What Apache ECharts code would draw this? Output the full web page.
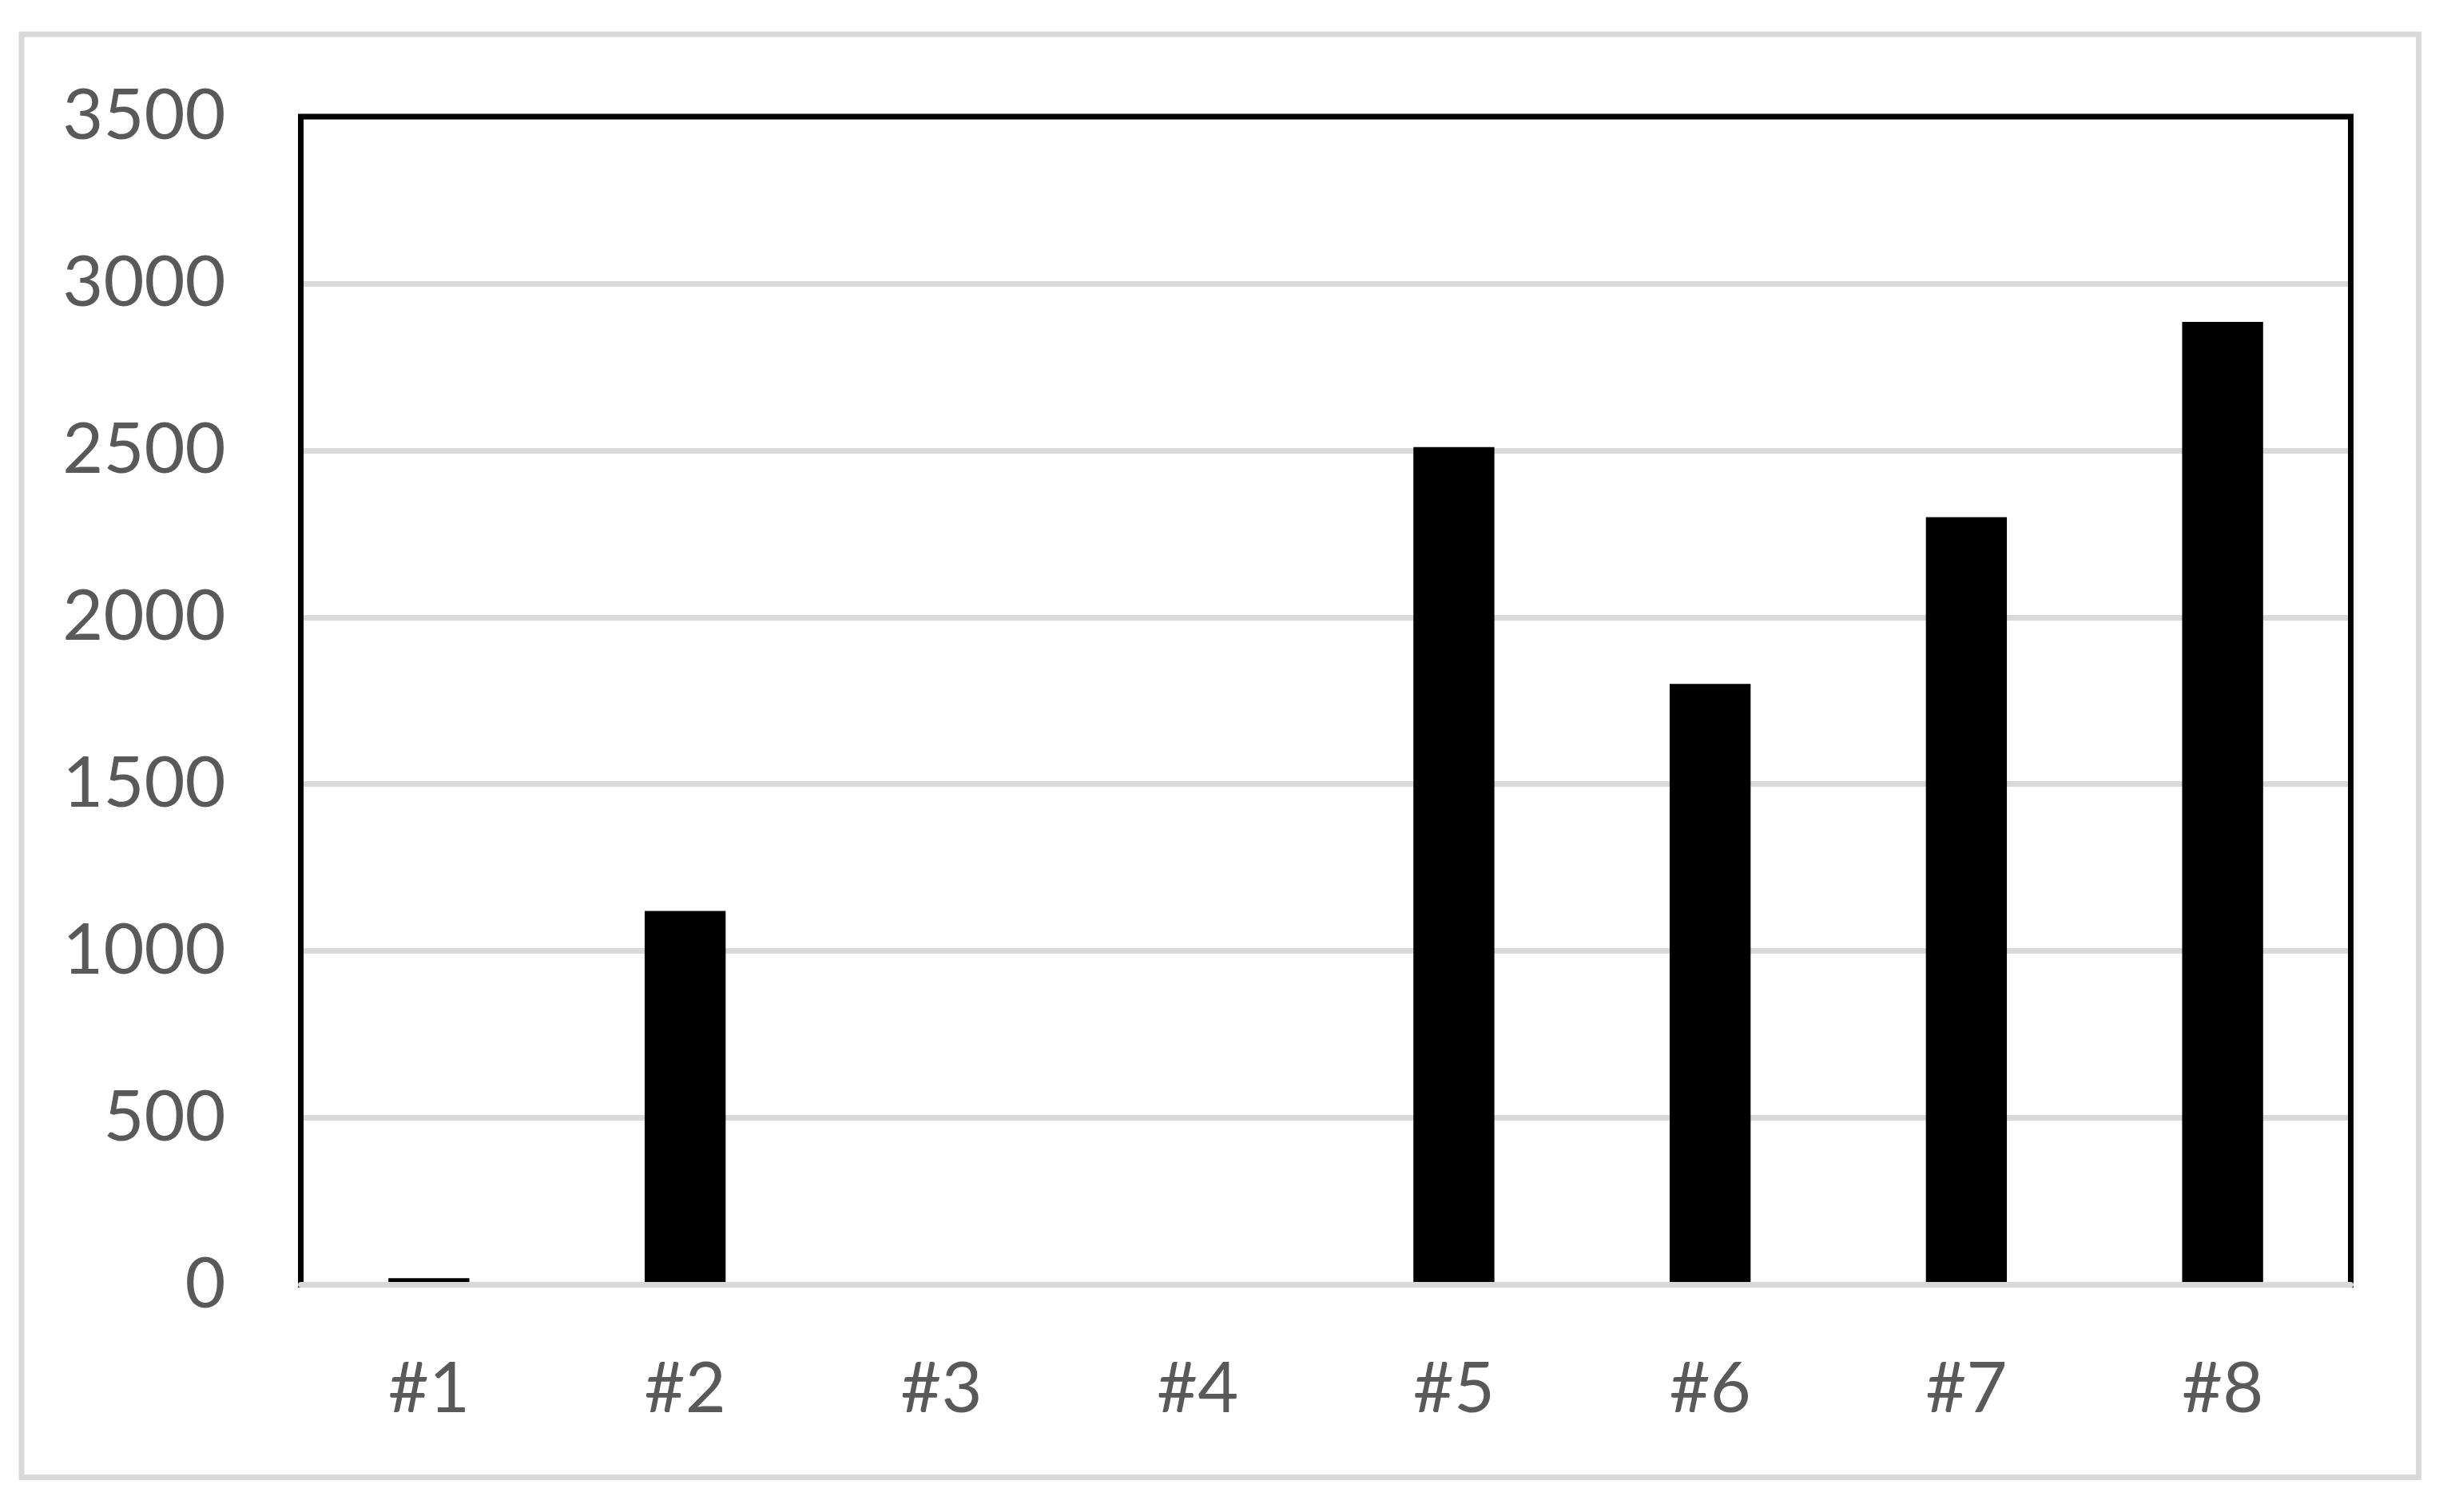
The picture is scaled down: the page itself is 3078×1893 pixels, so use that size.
<!DOCTYPE html>
<html>
<head>
<meta charset="utf-8">
<script src="https://cdn.jsdelivr.net/npm/echarts@6/dist/echarts.min.js"></script>
<style>
html,body{margin:0;padding:0;background:#fff;}
#chart{width:3078px;height:1893px;}
</style>
</head>
<body>
<div id="chart"></div>
<script>
const categories = ['#1', '#2', '#3', '#4', '#5', '#6', '#7', '#8'];
const values = [20, 1120, 0, 0, 2510, 1800, 2300, 2885];
const yMin = 0;
const yMax = 3500;
const yStep = 500;

const chart = echarts.init(document.getElementById('chart'));
const labelFont = 'Lato, "Open Sans", sans-serif';
chart.setOption({
  backgroundColor: '#ffffff',
  animation: false,
  graphic: [{
    type: 'rect',
    shape: { x: 27, y: 43, width: 3000.5, height: 1806.5 },
    style: { fill: 'none', stroke: '#d9d9d9', lineWidth: 7 },
    z: 0
  }],
  grid: {
    left: 376.5, right: 135.5, top: 146, bottom: 284.5,
    show: true, borderColor: '#000000', borderWidth: 7,
    backgroundColor: 'transparent', z: 5
  },
  xAxis: {
    type: 'category',
    data: categories,
    z: 6,
    axisLine: { show: true, lineStyle: { color: '#d9d9d9', width: 7 } },
    axisTick: { show: false },
    axisLabel: { color: '#595959', fontSize: 88, fontFamily: labelFont, margin: 87 },
    splitLine: { show: false }
  },
  yAxis: {
    type: 'value',
    min: yMin, max: yMax, interval: yStep,
    axisLine: { show: false },
    axisTick: { show: false },
    axisLabel: { color: '#595959', fontSize: 88, fontFamily: labelFont, margin: 94,
      formatter: function (v) { return String(v); } },
    splitLine: { show: true, lineStyle: { color: '#d9d9d9', width: 7 } }
  },
  series: [{
    type: 'bar',
    data: values,
    barWidth: '31.6%',
    itemStyle: { color: '#000000' }
  }]
});
</script>
</body>
</html>
